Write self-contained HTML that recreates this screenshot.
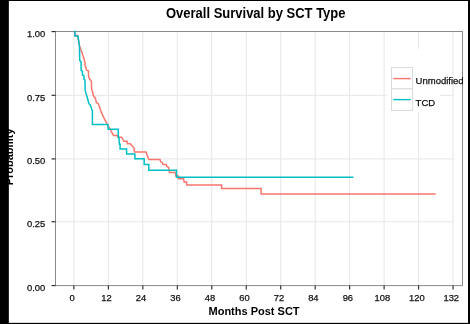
<!DOCTYPE html>
<html><head><meta charset="utf-8"><style>
html,body{margin:0;padding:0;background:#fff;}
body{width:470px;height:324px;overflow:hidden;position:relative;}
svg{position:absolute;left:0;top:0;display:block;will-change:transform;}
text{font-family:"Liberation Sans", sans-serif;}
</style></head><body>
<svg width="470" height="324" viewBox="0 0 470 324">
<rect x="0" y="0" width="470" height="324" fill="#fff"/>
<g stroke="#e6e6e6" stroke-width="1" fill="none">
<line x1="73.90" y1="31.5" x2="73.90" y2="285.6" />
<line x1="108.37" y1="31.5" x2="108.37" y2="285.6" />
<line x1="142.84" y1="31.5" x2="142.84" y2="285.6" />
<line x1="177.31" y1="31.5" x2="177.31" y2="285.6" />
<line x1="211.78" y1="31.5" x2="211.78" y2="285.6" />
<line x1="246.24" y1="31.5" x2="246.24" y2="285.6" />
<line x1="280.71" y1="31.5" x2="280.71" y2="285.6" />
<line x1="315.18" y1="31.5" x2="315.18" y2="285.6" />
<line x1="349.65" y1="31.5" x2="349.65" y2="285.6" />
<line x1="384.12" y1="31.5" x2="384.12" y2="285.6" />
<line x1="418.59" y1="31.5" x2="418.59" y2="285.6" />
<line x1="453.06" y1="31.5" x2="453.06" y2="285.6" />
<line x1="55.5" y1="95.3" x2="453.5" y2="95.3" />
<line x1="55.5" y1="158.9" x2="453.5" y2="158.9" />
<line x1="55.5" y1="221.8" x2="453.5" y2="221.8" />
</g>
<rect x="55.5" y="31.5" width="407" height="254.1" fill="none" stroke="#8a8a8a" stroke-width="1"/>
<g stroke="#222" stroke-width="1.1">
<line x1="73.90" y1="285.6" x2="73.90" y2="289.6" />
<line x1="108.37" y1="285.6" x2="108.37" y2="289.6" />
<line x1="142.84" y1="285.6" x2="142.84" y2="289.6" />
<line x1="177.31" y1="285.6" x2="177.31" y2="289.6" />
<line x1="211.78" y1="285.6" x2="211.78" y2="289.6" />
<line x1="246.24" y1="285.6" x2="246.24" y2="289.6" />
<line x1="280.71" y1="285.6" x2="280.71" y2="289.6" />
<line x1="315.18" y1="285.6" x2="315.18" y2="289.6" />
<line x1="349.65" y1="285.6" x2="349.65" y2="289.6" />
<line x1="384.12" y1="285.6" x2="384.12" y2="289.6" />
<line x1="418.59" y1="285.6" x2="418.59" y2="289.6" />
<line x1="453.06" y1="285.6" x2="453.06" y2="289.6" />
<line x1="51.5" y1="285.60" x2="55.5" y2="285.60" />
<line x1="51.5" y1="221.80" x2="55.5" y2="221.80" />
<line x1="51.5" y1="158.90" x2="55.5" y2="158.90" />
<line x1="51.5" y1="95.30" x2="55.5" y2="95.30" />
<line x1="51.5" y1="31.60" x2="55.5" y2="31.60" />
</g>
<g font-size="9.4" fill="#111" stroke="#111" stroke-width="0.25">
<text x="72.10" y="301.3" text-anchor="middle">0</text>
<text x="106.57" y="301.3" text-anchor="middle">12</text>
<text x="141.04" y="301.3" text-anchor="middle">24</text>
<text x="175.51" y="301.3" text-anchor="middle">36</text>
<text x="209.98" y="301.3" text-anchor="middle">48</text>
<text x="244.44" y="301.3" text-anchor="middle">60</text>
<text x="278.91" y="301.3" text-anchor="middle">72</text>
<text x="313.38" y="301.3" text-anchor="middle">84</text>
<text x="347.85" y="301.3" text-anchor="middle">96</text>
<text x="382.32" y="301.3" text-anchor="middle">108</text>
<text x="416.79" y="301.3" text-anchor="middle">120</text>
<text x="451.26" y="301.3" text-anchor="middle">132</text>
<text x="45.3" y="291.10" text-anchor="end">0.00</text>
<text x="45.3" y="227.30" text-anchor="end">0.25</text>
<text x="45.3" y="164.40" text-anchor="end">0.50</text>
<text x="45.3" y="100.80" text-anchor="end">0.75</text>
<text x="45.3" y="37.10" text-anchor="end">1.00</text>
</g>
<polyline points="73.9,31.6 74.8,31.6 74.8,35.4 77.6,35.4 78.4,40.0 79.6,46.0 82.4,54.0 84.1,58.9 84.9,62.4 85.1,65.4 86.1,68.4 86.8,70.4 88.4,70.9 88.6,76.0 89.0,78.0 90.1,79.5 91.4,81.4 91.6,89.3 92.6,92.0 93.4,95.7 95.3,98.2 96.5,102.8 98.2,103.6 100.4,109.7 102.9,115.9 105.4,120.8 107.8,125.0 112.5,133.7 113.5,135.5 117.6,135.5 118.0,137.2 121.5,137.2 124.0,141.3 127.0,141.3 127.3,143.8 130.3,143.8 134.0,148.0 134.5,152.0 146.0,152.0 148.8,159.4 160.0,159.4 160.6,161.6 162.3,162.6 163.0,164.4 166.3,164.4 166.9,166.6 168.7,167.4 169.5,172.6 175.4,172.6 175.9,175.9 178.3,175.9 178.6,178.7 183.6,178.7 184.2,181.9 186.6,181.9 186.8,185.0 221.6,185.0 221.6,188.5 261.1,188.5 261.1,194.1 435.7,194.1" fill="none" stroke="#F8766D" stroke-width="1.5" stroke-linejoin="miter"/>
<polyline points="73.9,31.6 74.9,31.6 74.9,36.1 77.9,36.1 78.9,42.0 79.5,48.0 79.7,60.4 81.1,61.9 81.1,70.4 82.4,71.4 82.5,75.0 83.9,75.9 84.0,79.3 84.9,79.9 85.2,90.4 86.2,94.0 87.3,97.5 88.3,101.5 89.2,104.0 90.4,105.2 91.5,108.5 92.4,111.0 92.4,124.5 107.9,124.5 108.2,129.3 118.2,129.3 118.3,137.4 119.0,137.4 119.4,144.3 120.1,144.3 120.1,148.9 126.6,148.9 126.6,154.0 134.9,154.0 134.9,158.8 144.2,158.8 144.2,164.4 148.8,164.4 148.8,170.2 176.5,170.2 176.5,177.2 353.4,177.2" fill="none" stroke="#00BFC4" stroke-width="1.5" stroke-linejoin="miter"/>
<!-- legend -->
<rect x="387" y="49" width="53" height="63" fill="#fff"/>
<rect x="391.5" y="67.6" width="21.1" height="21.3" fill="#fff" stroke="#d9d9d9" stroke-width="1"/>
<rect x="391.5" y="88.9" width="21.1" height="21.5" fill="#fff" stroke="#d9d9d9" stroke-width="1"/>
<line x1="393.3" y1="78.6" x2="410.7" y2="78.6" stroke="#F8766D" stroke-width="1.4"/>
<line x1="393.3" y1="99.6" x2="410.7" y2="99.6" stroke="#00BFC4" stroke-width="1.4"/>
<g font-size="9.5" fill="#111" stroke="#111" stroke-width="0.25">
<text x="415.6" y="83.7">Unmodified</text>
<text x="415.6" y="105.8">TCD</text>
</g>
<text x="166" y="18" font-size="14" font-weight="bold" fill="#000" textLength="179.5" lengthAdjust="spacingAndGlyphs">Overall Survival by SCT Type</text>
<text x="208.5" y="315" font-size="11" font-weight="bold" fill="#000">Months Post SCT</text>
<text transform="translate(13.3,185.3) rotate(-90)" x="0" y="0" font-size="11" font-weight="bold" fill="#000">Probability</text>
<!-- black borders -->
<rect x="0" y="0" width="470" height="1" fill="#000"/>
<rect x="0" y="0" width="8.85" height="324" fill="#000"/>
<rect x="468" y="0" width="2" height="324" fill="#000"/>
<rect x="0" y="322.85" width="470" height="1.15" fill="#000"/>
</svg>
</body></html>
